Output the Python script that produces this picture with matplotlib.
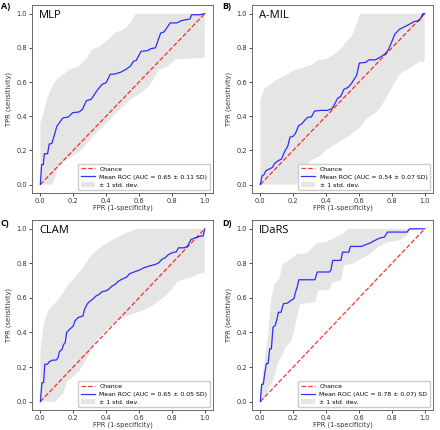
import matplotlib
matplotlib.use('Agg')
import matplotlib.pyplot as plt
import numpy as np

# ─── Data ─────────────────────────────────────────────────────────────────────

panel_letters = ['A)', 'B)', 'C)', 'D)']
model_names = ['MLP', 'A-MIL', 'CLAM', 'IDaRS']
auc_labels = [
    'Mean ROC (AUC = 0.65 ± 0.11 SD)',
    'Mean ROC (AUC = 0.54 ± 0.07 SD)',
    'Mean ROC (AUC = 0.65 ± 0.05 SD)',
    'Mean ROC (AUC = 0.78 ± 0.07) SD',
]

# MLP
mlp_fpr = [0, 0.008, 0.018, 0.024, 0.044, 0.054, 0.07, 0.087, 0.10, 0.137, 0.17, 0.196,
           0.236, 0.256, 0.28, 0.31, 0.35, 0.375, 0.40, 0.425, 0.454, 0.49, 0.52, 0.548,
           0.567, 0.583, 0.613, 0.653, 0.673, 0.70, 0.732, 0.752, 0.79, 0.83, 0.86, 0.91,
           0.92, 0.97, 1.0]
mlp_tpr = [0, 0.117, 0.117, 0.18, 0.18, 0.237, 0.24, 0.295, 0.34, 0.39, 0.395, 0.42,
           0.425, 0.44, 0.49, 0.50, 0.557, 0.586, 0.596, 0.645, 0.647, 0.658, 0.674, 0.693,
           0.722, 0.726, 0.78, 0.784, 0.796, 0.80, 0.887, 0.893, 0.946, 0.946, 0.96, 0.969,
           0.994, 0.994, 1.0]
mlp_up_fpr = [0, 0.02, 0.04, 0.07, 0.10, 0.14, 0.18, 0.23, 0.28, 0.315, 0.365, 0.415,
              0.454, 0.504, 0.544, 0.573, 0.583, 1.0]
mlp_up_tpr = [0.36, 0.42, 0.50, 0.57, 0.615, 0.645, 0.674, 0.69, 0.736, 0.79, 0.81, 0.852,
              0.887, 0.907, 0.94, 0.988, 1.0, 1.0]
mlp_lo_fpr = [0, 0.077, 0.097, 0.117, 0.147, 0.206, 0.256, 0.325, 0.385, 0.444, 0.504,
              0.553, 0.603, 0.663, 0.722, 0.762, 0.821, 0.881, 1.0]
mlp_lo_tpr = [0, 0, 0.07, 0.11, 0.14, 0.17, 0.21, 0.285, 0.344, 0.40, 0.46, 0.50, 0.53,
              0.577, 0.674, 0.683, 0.732, 0.736, 0.742]

# A-MIL
amil_fpr = [0, 0.01, 0.024, 0.033, 0.053, 0.073, 0.088, 0.11, 0.13, 0.14, 0.15, 0.167,
            0.18, 0.20, 0.214, 0.233, 0.253, 0.273, 0.292, 0.31, 0.33, 0.367, 0.406, 0.435,
            0.455, 0.47, 0.488, 0.508, 0.533, 0.553, 0.573, 0.586, 0.602, 0.641, 0.661,
            0.70, 0.73, 0.759, 0.778, 0.798, 0.818, 0.847, 0.876, 0.906, 0.935, 0.965,
            0.978, 0.988, 1.0]
amil_tpr = [0, 0.05, 0.06, 0.08, 0.09, 0.10, 0.125, 0.14, 0.15, 0.177, 0.197, 0.225,
            0.277, 0.283, 0.30, 0.345, 0.356, 0.38, 0.395, 0.395, 0.43, 0.434, 0.434, 0.443,
            0.476, 0.505, 0.515, 0.557, 0.568, 0.59, 0.62, 0.64, 0.711, 0.715, 0.73, 0.73,
            0.746, 0.765, 0.788, 0.832, 0.88, 0.909, 0.923, 0.938, 0.954, 0.958, 0.977,
            1.0, 1.0]
amil_up_fpr = [0, 0.024, 0.053, 0.092, 0.15, 0.21, 0.25, 0.31, 0.35, 0.406, 0.455, 0.494,
               0.533, 0.563, 0.60, 0.61, 1.0]
amil_up_tpr = [0.495, 0.56, 0.58, 0.61, 0.64, 0.67, 0.68, 0.70, 0.726, 0.736, 0.765, 0.80,
               0.846, 0.88, 0.977, 1.0, 1.0]
amil_lo_fpr = [0, 0.22, 0.24, 0.278, 0.318, 0.367, 0.406, 0.455, 0.504, 0.553, 0.602,
               0.641, 0.68, 0.72, 0.759, 0.798, 0.837, 0.867, 0.906, 0.935, 0.965, 1.0]
amil_lo_tpr = [0, 0, 0.07, 0.11, 0.148, 0.168, 0.206, 0.235, 0.264, 0.293, 0.331, 0.38,
               0.408, 0.437, 0.495, 0.563, 0.63, 0.659, 0.678, 0.697, 0.717, 0.72]

# CLAM
clam_fpr = [0, 0.01, 0.02, 0.027, 0.043, 0.053, 0.073, 0.096, 0.108, 0.116, 0.131, 0.141,
            0.151, 0.16, 0.18, 0.20, 0.21, 0.229, 0.259, 0.269, 0.284, 0.298, 0.318, 0.337,
            0.357, 0.376, 0.396, 0.416, 0.435, 0.455, 0.475, 0.494, 0.524, 0.543, 0.573,
            0.602, 0.631, 0.661, 0.70, 0.72, 0.739, 0.759, 0.778, 0.798, 0.827, 0.841,
            0.876, 0.896, 0.916, 0.945, 0.975, 0.99, 1.0]
clam_tpr = [0, 0.11, 0.11, 0.216, 0.216, 0.23, 0.24, 0.24, 0.254, 0.29, 0.30, 0.33, 0.34,
            0.40, 0.42, 0.437, 0.466, 0.486, 0.495, 0.534, 0.563, 0.578, 0.592, 0.61, 0.62,
            0.636, 0.64, 0.65, 0.668, 0.678, 0.697, 0.707, 0.72, 0.74, 0.751, 0.761, 0.775,
            0.784, 0.794, 0.803, 0.823, 0.832, 0.85, 0.86, 0.867, 0.89, 0.89, 0.90, 0.938,
            0.948, 0.958, 0.958, 1.0]
clam_up_fpr = [0, 0.024, 0.053, 0.092, 0.131, 0.17, 0.21, 0.259, 0.298, 0.347, 0.406,
               0.465, 0.524, 0.582, 0.60, 1.0]
clam_up_tpr = [0.30, 0.466, 0.534, 0.572, 0.62, 0.678, 0.717, 0.775, 0.832, 0.88, 0.919,
               0.948, 0.977, 0.996, 1.0, 1.0]
clam_lo_fpr = [0, 0.092, 0.12, 0.141, 0.16, 0.19, 0.229, 0.269, 0.308, 0.347, 0.406,
               0.465, 0.524, 0.582, 0.641, 0.68, 0.72, 0.759, 0.798, 0.837, 0.876, 0.916,
               0.955, 1.0]
clam_lo_tpr = [0, 0, 0.03, 0.05, 0.11, 0.14, 0.168, 0.225, 0.30, 0.36, 0.418, 0.466,
               0.495, 0.514, 0.534, 0.553, 0.582, 0.61, 0.65, 0.697, 0.707, 0.717, 0.736,
               0.746]

# IDaRS
idars_fpr = [0, 0.008, 0.018, 0.028, 0.037, 0.047, 0.057, 0.067, 0.077, 0.09, 0.102,
             0.11, 0.126, 0.14, 0.165, 0.185, 0.204, 0.214, 0.224, 0.234, 0.332, 0.346,
             0.42, 0.43, 0.44, 0.49, 0.50, 0.538, 0.548, 0.617, 0.637, 0.666, 0.695, 0.725,
             0.754, 0.774, 0.892, 0.908, 1.0]
idars_tpr = [0, 0.10, 0.10, 0.17, 0.22, 0.22, 0.305, 0.305, 0.43, 0.44, 0.48, 0.517,
             0.517, 0.566, 0.57, 0.585, 0.595, 0.633, 0.662, 0.705, 0.705, 0.75, 0.75,
             0.763, 0.817, 0.817, 0.865, 0.865, 0.898, 0.898, 0.907, 0.917, 0.932, 0.946,
             0.952, 0.981, 0.981, 1.0, 1.0]
idars_up_fpr = [0, 0.018, 0.047, 0.067, 0.086, 0.116, 0.136, 0.175, 0.224, 0.283, 0.342,
                0.40, 0.45, 0.50, 0.538, 1.0]
idars_up_tpr = [0.04, 0.18, 0.39, 0.60, 0.68, 0.71, 0.797, 0.817, 0.855, 0.86, 0.917,
                0.923, 0.948, 0.971, 1.0, 1.0]
idars_lo_fpr = [0, 0.028, 0.057, 0.077, 0.106, 0.136, 0.155, 0.185, 0.194, 0.214, 0.228,
                0.244, 0.332, 0.352, 0.42, 0.44, 0.49, 0.509, 0.558, 0.597, 0.637, 0.676,
                0.715, 0.774, 0.843, 0.892, 0.912, 1.0]
idars_lo_tpr = [0, 0.025, 0.083, 0.12, 0.218, 0.276, 0.315, 0.344, 0.363, 0.45, 0.508,
                0.566, 0.575, 0.643, 0.647, 0.69, 0.70, 0.788, 0.797, 0.817, 0.836, 0.859,
                0.894, 0.923, 0.932, 0.961, 0.99, 1.0]

chance = [0, 1]

panels = [
    (mlp_fpr, mlp_tpr, mlp_up_fpr, mlp_up_tpr, mlp_lo_fpr, mlp_lo_tpr),
    (amil_fpr, amil_tpr, amil_up_fpr, amil_up_tpr, amil_lo_fpr, amil_lo_tpr),
    (clam_fpr, clam_tpr, clam_up_fpr, clam_up_tpr, clam_lo_fpr, clam_lo_tpr),
    (idars_fpr, idars_tpr, idars_up_fpr, idars_up_tpr, idars_lo_fpr, idars_lo_tpr),
]

# ─── Layout ───────────────────────────────────────────────────────────────────

plt.rcParams.update({
    'font.family': 'DejaVu Sans',
    'font.size': 4.8,
    'axes.linewidth': 0.6,
    'xtick.major.width': 0.6,
    'ytick.major.width': 0.6,
    'xtick.major.size': 2,
    'ytick.major.size': 2,
    'xtick.major.pad': 1.2,
    'ytick.major.pad': 1.5,
    'xtick.color': '#333333',
    'ytick.color': '#333333',
})

fig = plt.figure(figsize=(4.4, 4.3), dpi=100)

axes_pos = [
    [0.073, 0.551, 0.411, 0.437],
    [0.573, 0.551, 0.411, 0.437],
    [0.073, 0.046, 0.411, 0.442],
    [0.573, 0.046, 0.411, 0.442],
]
letter_pos = [(0.002, 0.995), (0.505, 0.995), (0.002, 0.49), (0.505, 0.49)]

for i, (fpr, tpr, ufpr, utpr, lfpr, ltpr) in enumerate(panels):
    ax = fig.add_axes(axes_pos[i])
    ax.plot(chance, chance, linestyle='--', lw=0.9, color='r', alpha=0.8, label='Chance')
    ax.plot(fpr, tpr, color='b', lw=0.9, alpha=0.8, label=auc_labels[i])
    ax.fill(np.r_[ufpr, lfpr[::-1]], np.r_[utpr, ltpr[::-1]],
            color='grey', alpha=0.2, lw=0, label='± 1 std. dev.')
    ax.set_xlim(-0.05, 1.05)
    ax.set_ylim(-0.05, 1.05)
    ax.set_xticks([0, 0.2, 0.4, 0.6, 0.8, 1.0])
    ax.set_yticks([0, 0.2, 0.4, 0.6, 0.8, 1.0])
    ax.set_xlabel('FPR (1-specificity)', fontsize=4.8, labelpad=0.5, color='#333333')
    ax.set_ylabel('TPR (sensitivity)', fontsize=4.8, labelpad=3, color='#333333')
    for s in ax.spines.values():
        s.set_edgecolor('#555555')
    ax.legend(loc='lower right', fontsize=4.4, handlelength=2.3, borderpad=0.4,
              labelspacing=0.45, framealpha=1, edgecolor='#cccccc', fancybox=True)
    ax.text(0.04, 0.975, model_names[i], transform=ax.transAxes, ha='left', va='top',
            fontsize=8, family='Open Sans')
    fig.text(letter_pos[i][0], letter_pos[i][1], panel_letters[i], ha='left', va='top',
             fontsize=6.5, fontweight='bold', family='Open Sans')

fig.savefig('out.png', dpi=100)
